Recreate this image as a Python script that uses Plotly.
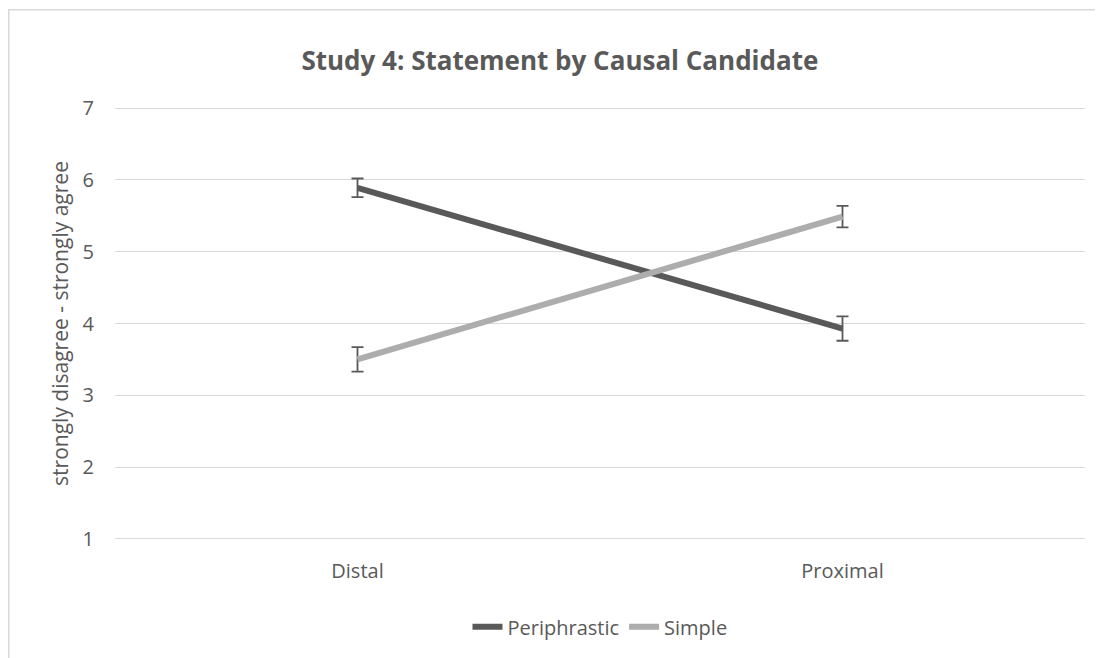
import plotly.graph_objects as go

categories = ["Distal", "Proximal"]
periphrastic = [5.89, 3.93]
periphrastic_err = [0.13, 0.17]
simple = [3.50, 5.49]
simple_err = [0.17, 0.15]
y_ticks = [1, 2, 3, 4, 5, 6, 7]

FONT = "Open Sans"
TXT = "#595959"

fig = go.Figure()
fig.add_trace(go.Scatter(
    x=categories, y=periphrastic, name="Periphrastic", mode="lines",
    line=dict(color="#595959", width=6),
    error_y=dict(type="data", array=periphrastic_err, visible=True,
                 color="#595959", thickness=1.8, width=6),
))
fig.add_trace(go.Scatter(
    x=categories, y=simple, name="Simple", mode="lines",
    line=dict(color="#ADADAD", width=6),
    error_y=dict(type="data", array=simple_err, visible=True,
                 color="#595959", thickness=1.8, width=6),
))

fig.update_layout(
    width=1095, height=650,
    margin=dict(l=107, r=18, t=98, b=115),
    paper_bgcolor="white", plot_bgcolor="white",
    font=dict(family=FONT, color=TXT, size=20),
    title=dict(text="<b>Study 4: Statement by Causal Candidate</b>",
               x=0.504, xanchor="center", y=0.918, yanchor="middle",
               font=dict(family=FONT, size=26, color=TXT)),
    xaxis=dict(type="category", range=[-0.5, 1.5], showgrid=False,
               showline=False, ticks="", tickfont=dict(size=20, color=TXT),
               ticklabelstandoff=16, zeroline=False),
    yaxis=dict(range=[0.97, 7.03], tickvals=y_ticks, showgrid=True,
               gridcolor="#D9D9D9", gridwidth=1, zeroline=False,
               showline=False, ticks="", ticklabelstandoff=20,
               tickfont=dict(size=20, color=TXT),
               title=dict(text="strongly disagree - strongly agree",
                          font=dict(size=21, color=TXT), standoff=8)),
    legend=dict(orientation="h", x=0.5, xanchor="center", y=-0.197,
                yanchor="middle", font=dict(size=20, color=TXT),
                tracegroupgap=0),
    showlegend=True,
    shapes=[dict(type="rect", xref="paper", yref="paper",
                 x0=-0.1095, x1=1.0175, y0=-0.28, y1=1.221,
                 line=dict(color="#D9D9D9", width=1.5), fillcolor="rgba(0,0,0,0)",
                 layer="below")],
)

fig.write_html("out.html")
